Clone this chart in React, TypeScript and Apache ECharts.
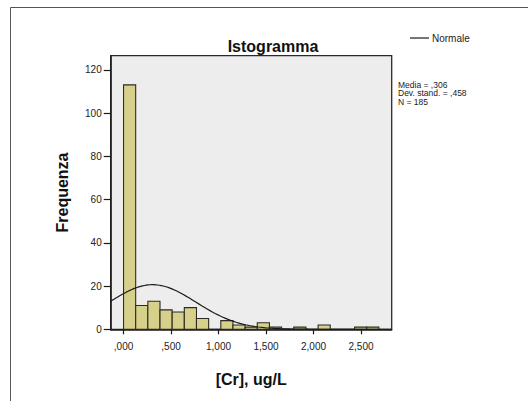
import React, { useEffect, useRef } from "react";
import * as echarts from "echarts";

// Histogram of [Cr] (ug/L), SPSS-style, with the fitted normal curve
const BIN_WIDTH = 0.128;
const BIN_COUNTS = [113, 11, 13, 9, 8, 10, 5, 0, 4, 2, 1, 3, 1, 0, 1, 0, 2, 0, 0, 1, 1];
const X_TICKS = [0, 0.5, 1, 1.5, 2, 2.5];
const Y_TICKS = [0, 20, 40, 60, 80, 100, 120];
const X_RANGE = [-0.135, 2.823];
const Y_MAX = 126.5;

// Summary statistics shown beside the plot; the normal curve is built from them
const MEAN = 0.306;
const SD = 0.458;
const N = 185;
const STATS_LINES = ["Media = ,306", "Dev. stand. = ,458", "N = 185"];
const LEGEND_LABEL = "Normale";

const FONT = "'Liberation Sans', Arial, sans-serif";

const bins = BIN_COUNTS.map((c, i) => [i * BIN_WIDTH, (i + 1) * BIN_WIDTH, c]);

function normalCurve(): number[][] {
  const pts: number[][] = [];
  const steps = 150;
  const scale = (N * BIN_WIDTH) / (SD * Math.sqrt(2 * Math.PI));
  for (let i = 0; i <= steps; i++) {
    const x = X_RANGE[0] + ((X_RANGE[1] - X_RANGE[0]) * i) / steps;
    const z = (x - MEAN) / SD;
    pts.push([x, scale * Math.exp(-0.5 * z * z)]);
  }
  return pts;
}

function fmtComma(v: number): string {
  const s = v.toFixed(3).replace(".", ",");
  return s.startsWith("0,") ? s.slice(1) : s;
}

export default function App() {
  const ref = useRef<HTMLDivElement>(null);

  useEffect(() => {
    if (!ref.current) return;
    const chart = echarts.init(ref.current, undefined, { renderer: "svg" });
    chart.setOption({
      animation: false,
      backgroundColor: "#ffffff",
      title: {
        text: "Istogramma",
        left: 268,
        top: 33,
        textAlign: "center",
        textStyle: { fontFamily: FONT, fontSize: 16, fontWeight: "bold", color: "#111" },
      },
      grid: {
        left: 110.7,
        top: 55.7,
        right: 528 - 391.7,
        bottom: 401 - 329.3,
        show: true,
        backgroundColor: "#ededed",
        borderColor: "#2a2a2a",
        borderWidth: 1.3,
      },
      xAxis: {
        type: "value",
        min: X_RANGE[0],
        max: X_RANGE[1],
        name: "[Cr], ug/L",
        nameLocation: "middle",
        nameGap: 42,
        nameTextStyle: { fontFamily: FONT, fontSize: 16, fontWeight: "bold", color: "#111" },
        axisLine: { show: true, onZero: false, lineStyle: { color: "#1a1a1a", width: 1.5 } },
        axisTick: {
          show: true,
          length: 5,
          customValues: X_TICKS,
          lineStyle: { color: "#1a1a1a", width: 1.2 },
        },
        axisLabel: {
          customValues: X_TICKS,
          margin: 12,
          formatter: (v: number) => fmtComma(v),
          fontFamily: FONT,
          fontSize: 10,
          color: "#222",
        },
        splitLine: { show: false },
      },
      yAxis: {
        type: "value",
        min: 0,
        max: Y_MAX,
        name: "Frequenza",
        nameLocation: "middle",
        nameRotate: 90,
        nameGap: 40,
        nameTextStyle: { fontFamily: FONT, fontSize: 16, fontWeight: "bold", color: "#111" },
        axisLine: { show: true, onZero: false, lineStyle: { color: "#1a1a1a", width: 1.5 } },
        axisTick: {
          show: true,
          length: 7,
          customValues: Y_TICKS,
          lineStyle: { color: "#1a1a1a", width: 1.2 },
        },
        axisLabel: {
          customValues: Y_TICKS,
          margin: 9,
          fontFamily: FONT,
          fontSize: 10,
          color: "#222",
        },
        splitLine: { show: false },
      },
      series: [
        {
          type: "custom",
          name: "Frequenza",
          clip: true,
          data: bins,
          encode: { x: [0, 1], y: 2 },
          renderItem: (_params: any, api: any) => {
            const start = api.coord([api.value(0), api.value(2)]);
            const end = api.coord([api.value(1), 0]);
            return {
              type: "rect",
              shape: {
                x: start[0],
                y: start[1],
                width: end[0] - start[0],
                height: end[1] - start[1],
              },
              style: { fill: "#d6d08b", stroke: "#2b2b22", lineWidth: 1.1 },
            };
          },
          z: 2,
        },
        {
          type: "line",
          name: LEGEND_LABEL,
          data: normalCurve(),
          showSymbol: false,
          symbol: "none",
          smooth: false,
          clip: true,
          lineStyle: { color: "#1a1a1a", width: 1.2 },
          itemStyle: { color: "#1a1a1a" },
          z: 3,
        },
      ],
      graphic: [
        {
          type: "rect",
          shape: { x: 10.5, y: 7.5, width: 600, height: 500 },
          style: { fill: "none", stroke: "#555", lineWidth: 1 },
          silent: true,
        },
        // legend key for the normal curve
        {
          type: "line",
          shape: { x1: 410, y1: 38, x2: 429, y2: 38 },
          style: { stroke: "#1a1a1a", lineWidth: 1.2 },
        },
        {
          type: "text",
          x: 432,
          y: 38,
          style: {
            text: LEGEND_LABEL,
            fontFamily: FONT,
            fontSize: 10,
            fill: "#222",
            verticalAlign: "middle",
          },
        },
        // statistics block
        ...STATS_LINES.map((t, i) => ({
          type: "text",
          x: 398,
          y: 84.5 + i * 8.8,
          style: {
            text: t,
            fontFamily: FONT,
            fontSize: 8.5,
            lineHeight: 8.5,
            fill: "#222",
            verticalAlign: "middle",
          },
        })),
      ],
    });
    return () => chart.dispose();
  }, []);

  return (
    <div
      ref={ref}
      style={{ position: "absolute", left: 0, top: 0, width: 528, height: 401 }}
    />
  );
}
